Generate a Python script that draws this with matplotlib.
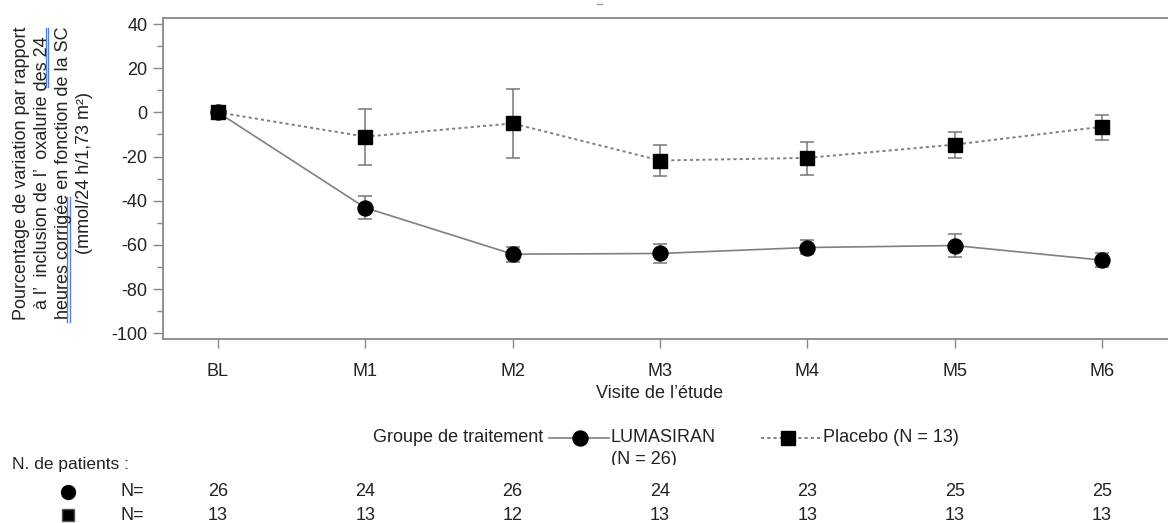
import matplotlib
matplotlib.use("Agg")
import matplotlib.pyplot as plt
from matplotlib.lines import Line2D
from matplotlib.transforms import Bbox, TransformedBbox, blended_transform_factory

plt.rcParams["font.family"] = ["Liberation Sans", "DejaVu Sans"]
plt.rcParams["axes.unicode_minus"] = False

# visits and values (% change from baseline, mean with error bar bounds)
visits = ["BL", "M1", "M2", "M3", "M4", "M5", "M6"]

lum_mean = [0, -43.2, -64.2, -63.9, -61.2, -60.3, -66.9]
lum_upper = [0, -38.0, -60.9, -59.4, -57.9, -54.9, -63.6]
lum_lower = [0, -48.1, -67.7, -68.0, -64.3, -65.4, -69.9]

pla_mean = [0, -11.0, -5.0, -21.8, -20.6, -14.6, -6.5]
pla_upper = [0, 1.5, 10.5, -15.0, -13.4, -9.0, -1.1]
pla_lower = [0, -23.8, -20.8, -28.9, -28.3, -20.7, -12.6]

# patients per visit
n_lum = [26, 24, 26, 24, 23, 25, 25]
n_pla = [13, 13, 12, 13, 13, 13, 13]

W, H = 1168, 523
fig = plt.figure(figsize=(W / 100, H / 100), dpi=100)


def px(x, y):
    # pixel position -> figure fraction
    return x / W, 1 - y / H


ax = fig.add_axes([163 / W, 1 - 338.5 / H, 1 - 163 / W, (338.5 - 18.3) / H])

gray = "#808080"
bar_gray = "#777777"
x = list(range(len(visits)))

lum_err = [[m - lo for m, lo in zip(lum_mean, lum_lower)],
           [hi - m for m, hi in zip(lum_mean, lum_upper)]]
pla_err = [[m - lo for m, lo in zip(pla_mean, pla_lower)],
           [hi - m for m, hi in zip(pla_mean, pla_upper)]]

ax.errorbar(x, lum_mean, yerr=lum_err, fmt="none", ecolor=bar_gray,
            elinewidth=1.1, capsize=5, capthick=1.1, zorder=2)
ax.plot(x, lum_mean, color=gray, lw=1.2, marker="o", ms=10.8,
        mfc="black", mec="black", zorder=3)

ax.errorbar(x, pla_mean, yerr=pla_err, fmt="none", ecolor=bar_gray,
            elinewidth=1.1, capsize=5, capthick=1.1, zorder=4)
ax.plot(x, pla_mean, color=gray, lw=1.4, ls=(0, (1.6, 1.6)), marker="s",
        ms=9.5, mfc="black", mec="black", zorder=5)

ax.set_xlim(-0.373, 6.448)
ax.set_ylim(-102.4, 42.6)
ax.set_xticks(x)
ax.set_xticklabels(visits)
ax.set_yticks(range(-100, 41, 20))
ax.set_yticks(range(-90, 40, 20), minor=True)

for side in ["left", "top", "bottom"]:
    ax.spines[side].set_color("#888888")
    ax.spines[side].set_linewidth(1.3)
ax.spines["right"].set_visible(False)

ax.tick_params(axis="y", which="major", length=7.5, width=1, color="#888888",
               pad=3.5, labelsize=13, labelcolor="#222222")
ax.tick_params(axis="y", which="minor", length=4.5, width=1, color="#888888")
ax.tick_params(axis="x", length=6.5, width=1, color="#888888", pad=11,
               labelsize=13, labelcolor="#222222")

bt = blended_transform_factory(ax.transData, fig.transFigure)
ax.text(3, px(0, 393)[1], "Visite de l’étude", transform=bt,
        ha="center", va="center", fontsize=13, color="#222222")

# y axis title
ylab = ("Pourcentage de variation par rapport\n"
        "à l’  inclusion de l’  oxalurie des 24\n"
        "heures corrigée en fonction de la SC\n"
        "(mmol/24 h/1,73 m²)")
fig.text(*px(53, 173), ylab, rotation=90, ha="center", va="center",
         multialignment="center", fontsize=13, color="#222222", linespacing=1.29)

# blue double underline marks on the y title
blue = "#4f7fe6"
for xx, y0, y1 in [(45.5, 28, 87), (48.3, 28, 87), (67.2, 197, 322), (70.2, 197, 322)]:
    fig.add_artist(Line2D([xx / W, xx / W], [1 - y0 / H, 1 - y1 / H],
                          color=blue, lw=1.0, transform=fig.transFigure))

# small stray dash at the top
fig.add_artist(Line2D([597 / W, 602 / W], [1 - 4 / H, 1 - 4 / H],
                      color="#999999", lw=1.0, transform=fig.transFigure))

# legend drawn by hand
fig.text(*px(373, 438), "Groupe de traitement", ha="left", va="center",
         fontsize=13, color="#222222")
fig.add_artist(Line2D([549 / W, 609 / W], [1 - 438 / H] * 2, color=gray, lw=1.2,
                      transform=fig.transFigure))
fig.add_artist(Line2D([580 / W], [1 - 438 / H], marker="o", ms=10.8, color="black",
                      transform=fig.transFigure))
fig.text(*px(611, 438), "LUMASIRAN", ha="left", va="center", fontsize=13, color="#222222")
t = fig.text(*px(611, 460), "(N = 26)", ha="left", va="center", fontsize=13, color="#222222")
t.set_clip_box(TransformedBbox(Bbox([[0, 1 - 465 / H], [1, 1]]), fig.transFigure))
t.set_clip_on(True)

fig.add_artist(Line2D([761 / W, 821 / W], [1 - 438 / H] * 2, color=gray, lw=1.4,
                      ls=(0, (1.6, 1.6)), transform=fig.transFigure))
fig.add_artist(Line2D([788 / W], [1 - 438 / H], marker="s", ms=9.5, color="black",
                      transform=fig.transFigure))
fig.text(*px(823, 438), "Placebo (N = 13)", ha="left", va="center", fontsize=13,
         color="#222222")

# patient counts table
fig.text(*px(12, 465), "N. de patients :", ha="left", va="center", fontsize=12.5,
         color="#222222")
fig.add_artist(Line2D([68 / W], [1 - 492 / H], marker="o", ms=10, color="black",
                      transform=fig.transFigure))
fig.add_artist(Line2D([68 / W], [1 - 515 / H], marker="s", ms=8, mfc="black",
                      mec="#555555", transform=fig.transFigure))
fig.text(*px(120, 492), "N=", ha="left", va="center", fontsize=13, color="#222222")
fig.text(*px(120, 515), "N=", ha="left", va="center", fontsize=13, color="#222222")

for xi, a, b in zip(x, n_lum, n_pla):
    ax.text(xi, px(0, 492)[1], str(a), transform=bt, ha="center", va="center",
            fontsize=13, color="#222222", clip_on=False)
    ax.text(xi, px(0, 515)[1], str(b), transform=bt, ha="center", va="center",
            fontsize=13, color="#222222", clip_on=False)

fig.savefig("out.png", dpi=100)
